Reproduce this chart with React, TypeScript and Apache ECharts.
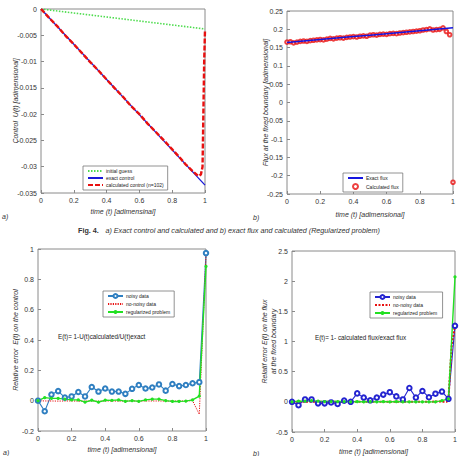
import React, { useEffect, useRef } from "react";
import * as echarts from "echarts";

const FONT = '"Liberation Sans", Arial, sans-serif';

// Chart a) control
const ctrlGuessT = [0, 1];
const ctrlGuess = [0, -0.0038];
const ctrlExactT = [0, 1];
const ctrlExact = [0, -0.0335];
const ctrlCalcT = [0, 0.05, 0.1, 0.15, 0.2, 0.25, 0.3, 0.35, 0.4, 0.45, 0.5, 0.55, 0.6, 0.65, 0.7, 0.75, 0.8, 0.85, 0.88, 0.9, 0.93, 0.96, 0.975, 0.985, 0.995, 1];
const ctrlCalc = [0, -0.0017, -0.0033, -0.0051, -0.0067, -0.0084, -0.0101, -0.0117, -0.0134, -0.0151, -0.0167, -0.0185, -0.0200, -0.0218, -0.0234, -0.0250, -0.0267, -0.0284, -0.0295, -0.0301, -0.0310, -0.0318, -0.0315, -0.0300, -0.0100, -0.0040];

// Chart b) flux
const fluxExactT = [0, 0.1, 0.2, 0.3, 0.4, 0.5, 0.6, 0.7, 0.8, 0.9, 1];
const fluxExact = [0.164, 0.168, 0.172, 0.176, 0.18, 0.184, 0.188, 0.192, 0.196, 0.2, 0.204];
const fluxCalcT = [0, 0.02, 0.04, 0.06, 0.08, 0.1, 0.12, 0.14, 0.16, 0.18, 0.2, 0.22, 0.24, 0.26, 0.28, 0.3, 0.32, 0.34, 0.36, 0.38, 0.4, 0.42, 0.44, 0.46, 0.48, 0.5, 0.52, 0.54, 0.56, 0.58, 0.6, 0.62, 0.64, 0.66, 0.68, 0.7, 0.72, 0.74, 0.76, 0.78, 0.8, 0.82, 0.84, 0.86, 0.88, 0.9, 0.92, 0.94, 0.96, 0.98, 1];
const fluxCalc = [0.165, 0.166, 0.163, 0.165, 0.167, 0.168, 0.167, 0.169, 0.17, 0.171, 0.172, 0.171, 0.173, 0.175, 0.174, 0.176, 0.177, 0.176, 0.178, 0.179, 0.18, 0.179, 0.181, 0.182, 0.181, 0.184, 0.185, 0.184, 0.186, 0.187, 0.186, 0.188, 0.189, 0.188, 0.19, 0.191, 0.192, 0.193, 0.194, 0.195, 0.196, 0.198, 0.199, 0.201, 0.198, 0.199, 0.2, 0.204, 0.194, 0.185, -0.218];

// Chart c) relative error on control
const errT = [0, 0.04, 0.08, 0.12, 0.16, 0.2, 0.24, 0.28, 0.32, 0.36, 0.4, 0.44, 0.48, 0.52, 0.56, 0.6, 0.64, 0.68, 0.72, 0.76, 0.8, 0.84, 0.88, 0.92, 0.96, 1];
const ctrlErrNoisy = [0, -0.07, 0.04, 0.063, 0.02, 0.028, 0.057, 0.028, 0.09, 0.06, 0.08, 0.06, 0.06, 0.045, 0.078, 0.103, 0.08, 0.087, 0.107, 0.066, 0.11, 0.096, 0.103, 0.115, 0.122, 0.973];
const ctrlErrClean = [0, -0.002, -0.002, -0.003, -0.002, -0.002, -0.003, -0.003, -0.002, -0.003, -0.002, -0.002, -0.003, -0.002, -0.002, -0.003, -0.002, -0.002, -0.002, -0.003, -0.003, -0.002, -0.002, 0.0, -0.09, 0.965];
const ctrlErrReg = [0, 0.02, 0.015, 0.015, 0.01, 0.005, 0.005, -0.01, 0.003, -0.01, 0.003, 0.002, 0.005, -0.005, 0, -0.005, 0.005, 0.01, 0.01, 0, -0.005, -0.005, -0.003, 0.005, 0.03, 0.885];

// Chart d) relative error on flux
const fluxErrNoisy = [0, -0.055, 0.04, 0.04, -0.025, -0.025, -0.01, -0.035, 0.02, 0, 0.14, 0.07, 0.025, 0.07, 0.12, 0.16, 0.09, 0.04, 0.23, 0.07, 0.18, 0.075, 0.135, 0.17, 0.05, 1.26];
const fluxErrCleanT = [0, 0.1, 0.2, 0.3, 0.4, 0.5, 0.6, 0.7, 0.8, 0.9, 0.95, 0.96, 0.98, 1];
const fluxErrClean = [0, 0, 0, 0, 0, 0, 0, 0, 0, 0.005, 0.0, 0.05, 0.95, 1.26];
const fluxErrReg = [0, 0.01, 0.01, 0.02, 0.01, 0.005, 0.005, 0.005, 0.005, 0, 0.005, 0, 0.005, 0, 0.005, 0, 0.005, 0, 0, 0, 0, 0, 0, 0.02, 0.05, 2.07];

const zip = (xs: number[], ys: number[]) => xs.map((x, i) => [x, ys[i]]);

const AXC = "#333";
const BORDER = "#8a8a8a";

function xAxis(grid: number, nameGap: number, name: string) {
  return {
    type: "value",
    gridIndex: grid,
    min: 0,
    max: 1,
    interval: 0.2,
    name,
    nameLocation: "middle",
    nameGap,
    nameTextStyle: { fontFamily: FONT, fontSize: 7, fontStyle: "italic", color: AXC },
    axisLine: { show: false, onZero: false },
    axisTick: { show: true, inside: true, length: 3, lineStyle: { color: BORDER } },
    axisLabel: { fontFamily: FONT, fontSize: 7, color: AXC, margin: 4 },
    splitLine: { show: false },
  };
}

function yAxis(grid: number, min: number, max: number, interval: number, name: string, nameGap: number) {
  return {
    type: "value",
    gridIndex: grid,
    min,
    max,
    interval,
    name,
    nameLocation: "middle",
    nameGap,
    nameMoveOverlap: false,
    nameTextStyle: { fontFamily: FONT, fontSize: 7, fontStyle: "italic", color: AXC, lineHeight: 9 },
    axisLine: { show: false, onZero: false },
    axisTick: { show: true, inside: true, length: 3, lineStyle: { color: BORDER } },
    axisLabel: { fontFamily: FONT, fontSize: 7, color: AXC, margin: 4 },
    splitLine: { show: false },
  };
}

const noMark = (name: string) => ({ name, itemStyle: { opacity: 0 } });

function legend(left: number, top: number, data: any[], itemGap = 1) {
  return {
    left,
    top,
    orient: "vertical",
    data,
    backgroundColor: "#fff",
    borderColor: "#777",
    borderWidth: 0.8,
    borderRadius: 0,
    padding: [2, 4, 2, 4],
    itemGap,
    itemWidth: 15,
    itemHeight: 5,
    textStyle: { fontFamily: FONT, fontSize: 5, color: "#222", lineHeight: 6, padding: [0, 0, 0, -2] },
  };
}

export default function App() {
  const ref = useRef<HTMLDivElement>(null);
  useEffect(() => {
    if (!ref.current) return;
    const chart = echarts.init(ref.current, undefined, { renderer: "svg" });
    const gridStyle = { show: true, borderColor: BORDER, borderWidth: 1, backgroundColor: "#fff", containLabel: false };
    const option: any = {
      animation: false,
      backgroundColor: "#fff",
      textStyle: { fontFamily: FONT },
      grid: [
        { ...gridStyle, left: 41, right: 260, top: 9, bottom: 263 },
        { ...gridStyle, left: 287, right: 12, top: 11, bottom: 262 },
        { ...gridStyle, left: 38, right: 259, top: 249, bottom: 25 },
        { ...gridStyle, left: 292, right: 10, top: 251, bottom: 23 },
      ],
      xAxis: [
        xAxis(0, 15, "time (t) [adimensinal]"),
        xAxis(1, 17, "time (t) [adimensional]"),
        xAxis(2, 15, "time (t) [adimensional]"),
        xAxis(3, 16, "time (t) [adimensional]"),
      ],
      yAxis: [
        yAxis(0, -0.035, 0, 0.005, "Control  U(t) [adimensional]", 21),
        yAxis(1, -0.25, 0.25, 0.05, "Flux at the fixed boundary [adimensional]", 17),
        yAxis(2, -0.2, 1, 0.2, "Relative error  E(t) on the control", 18),
        yAxis(3, -0.5, 2.5, 0.5, "Relatif error E(t) on the flux\nat the fixed boundary", 14),
      ],
      legend: [
        legend(83, 166, [noMark("initial guess"), noMark("exact control"), noMark("calculated control (n=102)")], 1),
        legend(343, 173, [noMark("Exact flux"), "Calculated flux"], 2),
        legend(103, 291, ["noisy data", noMark("no-noisy data"), "regularized problem"], 2),
        legend(370, 292, ["noisy data ", noMark("no-noisy data "), "regularized problem "], 2),
      ],
      series: [
        {
          name: "initial guess", type: "line", xAxisIndex: 0, yAxisIndex: 0,
          data: zip(ctrlGuessT, ctrlGuess), showSymbol: false, symbol: "none",
          lineStyle: { color: "#4fdc4f", width: 1.6, type: [1.5, 1.5] }, itemStyle: { color: "#4fdc4f" },
        },
        {
          name: "exact control", type: "line", xAxisIndex: 0, yAxisIndex: 0,
          data: zip(ctrlExactT, ctrlExact), showSymbol: false, symbol: "none",
          lineStyle: { color: "#1a1ad8", width: 1.3 }, itemStyle: { color: "#1a1ad8" },
        },
        {
          name: "calculated control (n=102)", type: "line", xAxisIndex: 0, yAxisIndex: 0,
          data: zip(ctrlCalcT, ctrlCalc), showSymbol: false, symbol: "none",
          lineStyle: { color: "#e81010", width: 2.4, type: [5, 2] }, itemStyle: { color: "#e81010" },
        },
        {
          name: "Exact flux", type: "line", xAxisIndex: 1, yAxisIndex: 1,
          data: zip(fluxExactT, fluxExact), showSymbol: false, symbol: "none",
          lineStyle: { color: "#1515e0", width: 1.5 }, itemStyle: { color: "#1515e0" },
        },
        {
          name: "Calculated flux", type: "scatter", xAxisIndex: 1, yAxisIndex: 1,
          data: zip(fluxCalcT, fluxCalc), symbol: "emptyCircle", symbolSize: 3.6,
          itemStyle: { color: "#e81010", borderColor: "#e81010", borderWidth: 1.2 },
        },
        {
          name: "noisy data", type: "line", xAxisIndex: 2, yAxisIndex: 2,
          data: zip(errT, ctrlErrNoisy), symbol: "emptyCircle", symbolSize: 4.5, showSymbol: true,
          lineStyle: { color: "#2f7fc1", width: 1.1 },
          itemStyle: { color: "#2f7fc1", borderColor: "#2f7fc1", borderWidth: 1 },
        },
        {
          name: "no-noisy data", type: "line", xAxisIndex: 2, yAxisIndex: 2,
          data: zip(errT, ctrlErrClean), showSymbol: false, symbol: "none",
          lineStyle: { color: "#e81010", width: 1, type: [1.2, 1.2] }, itemStyle: { color: "#e81010" },
        },
        {
          name: "regularized problem", type: "line", xAxisIndex: 2, yAxisIndex: 2,
          data: zip(errT, ctrlErrReg), symbol: "circle", symbolSize: 3.2, showSymbol: true,
          lineStyle: { color: "#22e022", width: 1.4 }, itemStyle: { color: "#22e022" },
        },
        {
          name: "noisy data ", type: "line", xAxisIndex: 3, yAxisIndex: 3,
          data: zip(errT, fluxErrNoisy), symbol: "emptyCircle", symbolSize: 4.5, showSymbol: true,
          lineStyle: { color: "#2424d0", width: 1.1 },
          itemStyle: { color: "#2424d0", borderColor: "#2424d0", borderWidth: 1 },
        },
        {
          name: "no-noisy data ", type: "line", xAxisIndex: 3, yAxisIndex: 3,
          data: zip(fluxErrCleanT, fluxErrClean), showSymbol: false, symbol: "none",
          lineStyle: { color: "#e81010", width: 2, type: [2, 1.5] }, itemStyle: { color: "#e81010" },
        },
        {
          name: "regularized problem ", type: "line", xAxisIndex: 3, yAxisIndex: 3,
          data: zip(errT, fluxErrReg), symbol: "circle", symbolSize: 3.2, showSymbol: true,
          lineStyle: { color: "#22e022", width: 1.4 }, itemStyle: { color: "#22e022" },
        },
      ],
      graphic: [
        { type: "text", left: 2, top: 213, style: { text: "a)", font: `italic 7px ${FONT}`, fill: "#333" } },
        { type: "text", left: 253, top: 214, style: { text: "b)", font: `italic 7px ${FONT}`, fill: "#333" } },
        { type: "text", left: 3, top: 449, style: { text: "a)", font: `italic 7px ${FONT}`, fill: "#333" } },
        { type: "text", left: 253, top: 450, style: { text: "b)", font: `italic 7px ${FONT}`, fill: "#333" } },
        {
          type: "text", left: 78, top: 224,
          style: {
            text: "{b|Fig. 4.}  {i|a) Exact control and calculated and b) exact flux and calculated (Regularized problem)}",
            rich: {
              b: { fontFamily: FONT, fontSize: 7.2, fontWeight: "bold", fill: "#333" },
              i: { fontFamily: FONT, fontSize: 7.2, fontStyle: "italic", fill: "#333" },
            },
          },
        },
        { type: "text", left: 58, top: 333, style: { text: "E(t)= 1-U(t)calculated/U(t)exact", font: `6.3px ${FONT}`, fill: "#222" } },
        { type: "text", left: 315, top: 334, style: { text: "E(t)= 1- calculated flux/exact flux", font: `6.3px ${FONT}`, fill: "#222" } },
      ],
    };
    chart.setOption(option);
    return () => chart.dispose();
  }, []);
  return <div ref={ref} style={{ width: 465, height: 456, position: "absolute", left: 0, top: 0 }} />;
}
